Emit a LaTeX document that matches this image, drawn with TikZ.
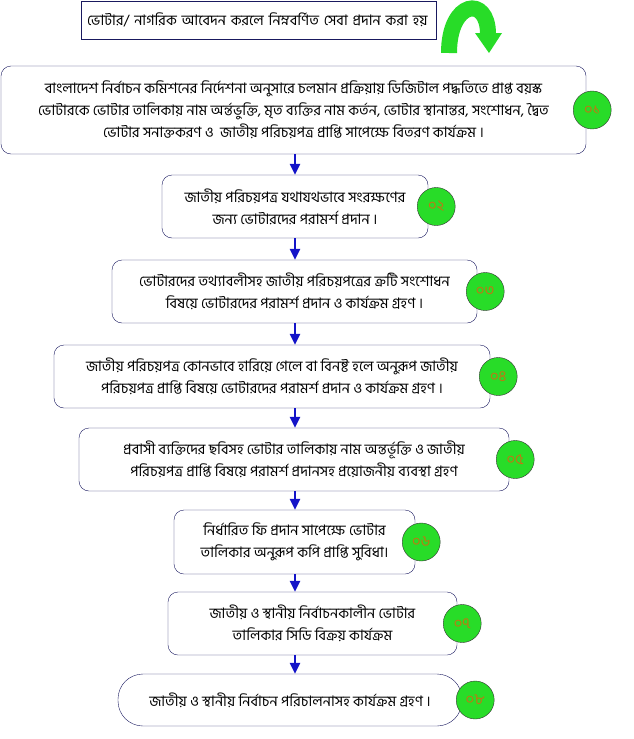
\documentclass[tikz,border=0pt]{standalone}
\usepackage{fontspec}
\newfontfamily\bn[Script=Bengali]{Hind Siliguri}
\usetikzlibrary{arrows.meta}
\definecolor{navy}{RGB}{25,25,95}
\definecolor{flowblue}{RGB}{20,20,200}
\definecolor{badge}{RGB}{40,220,40}
\definecolor{numtext}{RGB}{190,120,20}

\begin{document}
\begin{tikzpicture}[x=1pt,y=-1pt]

\tikzstyle{every node}=[font=\bn\fontsize{14.5}{22}\selectfont]
\tikzstyle{stepbox}=[draw=navy, rounded corners=10pt, align=center, inner sep=0pt]
\tikzstyle{badgenode}=[circle, draw=black!80, fill=badge, minimum size=38pt,
	inner sep=0pt, text=numtext, font=\bn\fontsize{15}{16}\selectfont]
\tikzstyle{flow}=[-{Triangle[width=10pt,length=11pt]}, draw=flowblue, line width=2.5pt]

\useasboundingbox (0,0) rectangle (634,739);

\node[draw=navy, minimum height=38pt, text width=343pt, align=left, inner sep=6pt]
	(title) at (258.5,20)
	{ভোটার/ নাগরিক আবেদন করলে নিম্নবর্ণিত সেবা প্রদান করা হয়};

% green turn arrow
\draw[draw=badge, line width=16pt] (449,53) .. controls (449,0) and (488,-5) .. (488,34);
\fill[badge] (475,33) -- (502,33) -- (489,53) -- cycle;

\node[stepbox, minimum width=585pt, minimum height=88pt] (s1) at (293.5,110)
	{বাংলাদেশ নির্বাচন কমিশনের নির্দেশনা অনুসারে চলমান প্রক্রিয়ায় ডিজিটাল পদ্ধতিতে প্রাপ্ত বয়স্ক\\
	 ভোটারকে ভোটার তালিকায় নাম অর্ন্তভুক্তি, মৃত ব্যক্তির নাম কর্তন, ভোটার স্থানান্তর, সংশোধন, দ্বৈত\\
	 ভোটার সনাক্তকরণ ও \ জাতীয় পরিচয়পত্র প্রাপ্তি সাপেক্ষে বিতরণ কার্যক্রম ।};
\node[stepbox, minimum width=266pt, minimum height=63pt] (s2) at (295,206.5)
	{জাতীয় পরিচয়পত্র যথাযথভাবে সংরক্ষণের\\
	 জন্য ভোটারদের পরামর্শ প্রদান ।};
\node[stepbox, minimum width=365pt, minimum height=63pt] (s3) at (294.5,291.5)
	{ভোটারদের তথ্যাবলীসহ জাতীয় পরিচয়পত্রের ক্রটি সংশোধন\\
	 বিষয়ে ভোটারদের পরামর্শ প্রদান ও কার্যক্রম গ্রহণ ।};
\node[stepbox, minimum width=436pt, minimum height=63pt] (s4) at (272,376.5)
	{জাতীয় পরিচয়পত্র কোনভাবে হারিয়ে গেলে বা বিনষ্ট হলে অনুরূপ জাতীয়\\
	 পরিচয়পত্র প্রাপ্তি বিষয়ে ভোটারদের পরামর্শ প্রদান ও কার্যক্রম গ্রহণ ।};
\node[stepbox, minimum width=430pt, minimum height=63pt] (s5) at (294,459.5)
	{প্রবাসী ব্যক্তিদের ছবিসহ ভোটার তালিকায় নাম অন্তর্ভূক্তি ও জাতীয়\\
	 পরিচয়পত্র প্রাপ্তি বিষয়ে পরামর্শ প্রদানসহ প্রয়োজনীয় ব্যবস্থা গ্রহণ};
\node[stepbox, minimum width=241pt, minimum height=64pt] (s6) at (294.5,542)
	{নির্ধারিত ফি প্রদান সাপেক্ষে ভোটার\\
	 তালিকার অনুরূপ কপি প্রাপ্তি সুবিধা।};
\node[stepbox, minimum width=289pt, minimum height=63pt] (s7) at (312.5,623.5)
	{জাতীয় ও স্থানীয় নির্বাচনকালীন ভোটার\\
	 তালিকার সিডি বিক্রয় কার্যক্রম};
\node[stepbox, rounded corners=25pt, minimum width=344pt, minimum height=52pt] (s8) at (290,700)
	{জাতীয় ও স্থানীয় নির্বাচন পরিচালনাসহ কার্যক্রম গ্রহণ ।};

\foreach \i/\d/\t in {1/6/০১, 2/8/০২, 3/8/০৩, 4/8/০৪, 5/6/০৫, 6/6/০৬, 7/5/০৭, 8/13/০৮}
	\node[badgenode] (n\i) at ([xshift=\d pt]s\i.east) {\t};

\coordinate (axis) at (295,0);
\foreach \a/\b in {s1/s2, s2/s3, s3/s4, s4/s5, s5/s6, s6/s7, s7/s8}
	\draw[flow] (\a.south -| axis) -- (\b.north -| axis);

\end{tikzpicture}
\end{document}
